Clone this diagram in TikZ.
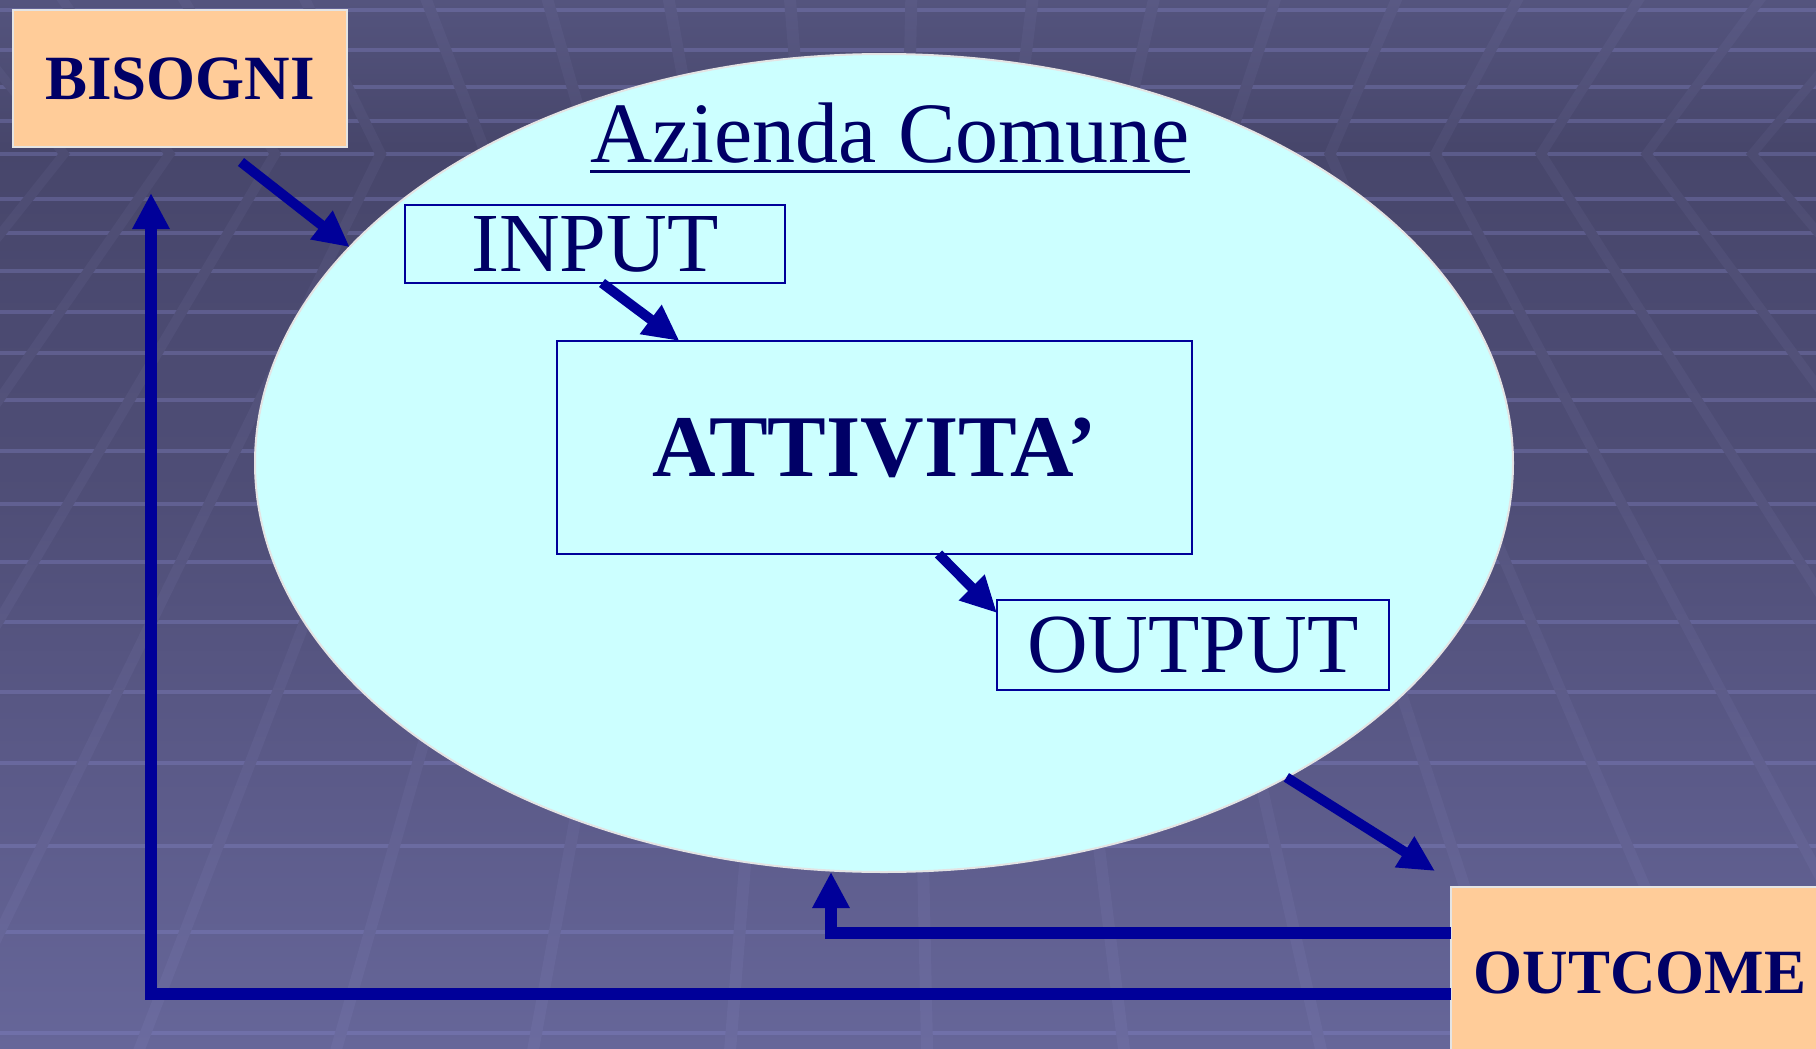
\documentclass[tikz,border=0pt]{standalone}
\usepackage{fontspec}
\setmainfont{Liberation Serif}
\usetikzlibrary{shapes,arrows.meta,positioning,calc}
\definecolor{slidetop}{HTML}{54547E}
\definecolor{slidedark}{HTML}{47466B}
\definecolor{slidemid}{HTML}{4F4E77}
\definecolor{slidelow}{HTML}{5C5B8A}
\definecolor{slidebottom}{HTML}{666699}
\definecolor{gridtop}{HTML}{595984}
\definecolor{griddark}{HTML}{4D4C72}
\definecolor{gridmid}{HTML}{55547E}
\definecolor{gridlow}{HTML}{616090}
\definecolor{gridbottom}{HTML}{6B6B9F}
\definecolor{stripe}{HTML}{8C8CD2}
\definecolor{aziendacyan}{HTML}{CCFFFF}
\definecolor{boxnavy}{HTML}{000099}
\definecolor{textnavy}{HTML}{000066}
\definecolor{tagbeige}{HTML}{FFCC99}
\definecolor{tagedge}{HTML}{E4E4E4}
\pgfdeclareverticalshading{slidebg}{100bp}{color(0bp)=(slidebottom); color(25bp)=(slidebottom); color(37bp)=(slidelow); color(51bp)=(slidemid); color(68bp)=(slidedark); color(75bp)=(slidetop); color(100bp)=(slidetop)}
\pgfdeclareverticalshading{gridbg}{100bp}{color(0bp)=(gridbottom); color(25bp)=(gridbottom); color(37bp)=(gridlow); color(51bp)=(gridmid); color(68bp)=(griddark); color(75bp)=(gridtop); color(100bp)=(gridtop)}
\tikzset{
  tagbox/.style={draw=tagedge, line width=2pt, fill=tagbeige, text=textnavy, inner sep=0pt, outer sep=0pt, font=\fontsize{63}{70}\selectfont\bfseries},
  insidebox/.style={draw=boxnavy, line width=2.5pt, fill=aziendacyan, text=textnavy, inner sep=0pt, outer sep=0pt, font=\fontsize{84}{90}\selectfont},
  flowarrow/.style={draw=boxnavy, line width=10pt, -{Triangle[length=36pt,width=34pt]}},
  feedback/.style={draw=boxnavy, line width=12pt, -{Triangle[length=36pt,width=35pt]}}
}
\begin{document}
\begin{tikzpicture}[x=1pt,y=-1pt]
  \useasboundingbox (0,0) rectangle (1816,1049);
  \clip (0,0) rectangle (1816,1049);

  % slide background with the floor grid
  \shade[shading=slidebg] (0,0) rectangle (1816,1049);
  \foreach \y in {10,50,87,121,154,199,233,271,312,353,400,451,504,562,622,692,763,846,932,1033}
    \draw[stripe, opacity=0.3, line width=4pt] (0,\y) -- (1816,\y);
  \begin{scope}
    \clip \foreach \k [evaluate=\k as \xc using 64+105.5*\k, evaluate=\k as \sl using (64+105.5*\k-886)/1033] in {-1,...,16} {
      ({\xc+154*\sl-6},0) -- ({\xc-6},154) -- ({\xc+895*\sl-6},1049)
      -- ({\xc+895*\sl+6},1049) -- ({\xc+6},154) -- ({\xc+154*\sl+6},0) -- cycle
    };
    \shade[shading=gridbg] (0,0) rectangle (1816,1049);
  \end{scope}

  % Azienda Comune
  \node[ellipse, draw=tagedge, line width=2pt, fill=aziendacyan, minimum width=1258pt, minimum height=818pt, inner sep=0pt, outer sep=0pt] (azienda) at (884,463) {};
  \node[anchor=base, inner sep=0pt, text=textnavy, font=\fontsize{86}{90}\selectfont] (titolo) at (890,162) {Azienda Comune};
  \draw[textnavy, line width=3pt] ([yshift=-9pt]titolo.base west) -- ([yshift=-9pt]titolo.base east);

  \node[insidebox, minimum width=380pt, minimum height=78pt] (input) at (595,244) {INPUT};
  \node[insidebox, minimum width=635pt, minimum height=213pt, font=\fontsize{88}{90}\selectfont\bfseries] (attivita) at (874.5,447.5) {ATTIVITA’};
  \node[insidebox, minimum width=392pt, minimum height=90pt] (output) at (1193,645) {OUTPUT};

  % tags outside
  \node[tagbox, minimum width=334pt, minimum height=137pt] (bisogni) at (180,78.5) {BISOGNI};
  \node[tagbox, minimum width=378pt, minimum height=172pt] (outcome) at (1640,973) {OUTCOME};

  % arrows
  \draw[flowarrow] ([xshift=61pt,yshift=-15pt]bisogni.south) -- (azienda.158.6);
  \draw[flowarrow] ([xshift=7pt]input.south) -- ([xshift=-195pt]attivita.north);
  \draw[flowarrow] ([xshift=64pt]attivita.south) -- ([yshift=-13pt]output.north west);
  \draw[flowarrow] (azienda.-38) -- ([shift={(-16pt,16pt)}]outcome.north west);
  \draw[feedback] ([yshift=40pt]outcome.west) -| ([xshift=-53pt]azienda.south);
  \draw[feedback] ([yshift=-21pt]outcome.west) -| ([shift={(-29pt,-46pt)}]bisogni.south);
\end{tikzpicture}
\end{document}
